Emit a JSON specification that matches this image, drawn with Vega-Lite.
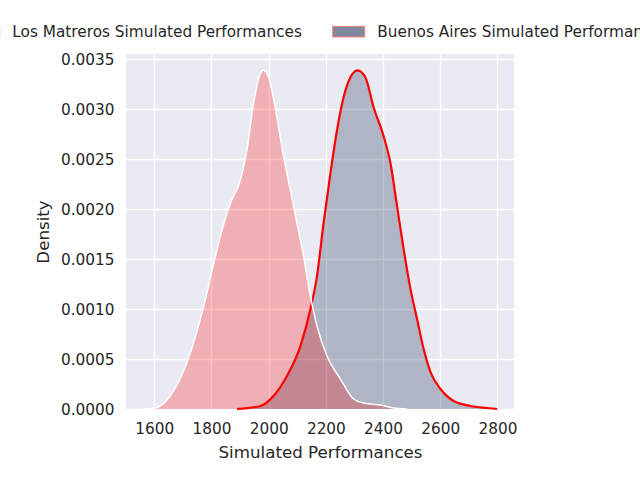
{
  "$schema": "https://vega.github.io/schema/vega-lite/v6.json",
  "width": 388,
  "height": 355,
  "autosize": {"type": "none"},
  "padding": {"left": 126, "top": 54, "right": 126, "bottom": 71},
  "background": "white",
  "data": {
    "values": [
      {"series": "Buenos Aires Simulated Performances", "x": 1889, "d": 0},
      {"series": "Buenos Aires Simulated Performances", "x": 1971, "d": 0.00003},
      {"series": "Buenos Aires Simulated Performances", "x": 2017, "d": 0.00013},
      {"series": "Buenos Aires Simulated Performances", "x": 2064, "d": 0.00033},
      {"series": "Buenos Aires Simulated Performances", "x": 2111, "d": 0.00063},
      {"series": "Buenos Aires Simulated Performances", "x": 2146, "d": 0.001},
      {"series": "Buenos Aires Simulated Performances", "x": 2169, "d": 0.00133},
      {"series": "Buenos Aires Simulated Performances", "x": 2192, "d": 0.00186},
      {"series": "Buenos Aires Simulated Performances", "x": 2216, "d": 0.00236},
      {"series": "Buenos Aires Simulated Performances", "x": 2239, "d": 0.00279},
      {"series": "Buenos Aires Simulated Performances", "x": 2262, "d": 0.00312},
      {"series": "Buenos Aires Simulated Performances", "x": 2286, "d": 0.00332},
      {"series": "Buenos Aires Simulated Performances", "x": 2311, "d": 0.00339},
      {"series": "Buenos Aires Simulated Performances", "x": 2338, "d": 0.00332},
      {"series": "Buenos Aires Simulated Performances", "x": 2367, "d": 0.00302},
      {"series": "Buenos Aires Simulated Performances", "x": 2402, "d": 0.00273},
      {"series": "Buenos Aires Simulated Performances", "x": 2426, "d": 0.00246},
      {"series": "Buenos Aires Simulated Performances", "x": 2449, "d": 0.00203},
      {"series": "Buenos Aires Simulated Performances", "x": 2472, "d": 0.0016},
      {"series": "Buenos Aires Simulated Performances", "x": 2496, "d": 0.0012},
      {"series": "Buenos Aires Simulated Performances", "x": 2519, "d": 0.0009},
      {"series": "Buenos Aires Simulated Performances", "x": 2542, "d": 0.0006},
      {"series": "Buenos Aires Simulated Performances", "x": 2566, "d": 0.00037},
      {"series": "Buenos Aires Simulated Performances", "x": 2601, "d": 0.0002},
      {"series": "Buenos Aires Simulated Performances", "x": 2647, "d": 0.00008},
      {"series": "Buenos Aires Simulated Performances", "x": 2706, "d": 0.00003},
      {"series": "Buenos Aires Simulated Performances", "x": 2764, "d": 0.00001},
      {"series": "Buenos Aires Simulated Performances", "x": 2799, "d": 0},
      {"series": "Los Matreros Simulated Performances", "x": 1562, "d": 0},
      {"series": "Los Matreros Simulated Performances", "x": 1603, "d": 0.00001},
      {"series": "Los Matreros Simulated Performances", "x": 1656, "d": 0.000133},
      {"series": "Los Matreros Simulated Performances", "x": 1714, "d": 0.000465},
      {"series": "Los Matreros Simulated Performances", "x": 1773, "d": 0.00103},
      {"series": "Los Matreros Simulated Performances", "x": 1808, "d": 0.00146},
      {"series": "Los Matreros Simulated Performances", "x": 1831, "d": 0.00173},
      {"series": "Los Matreros Simulated Performances", "x": 1866, "d": 0.00206},
      {"series": "Los Matreros Simulated Performances", "x": 1901, "d": 0.00229},
      {"series": "Los Matreros Simulated Performances", "x": 1924, "d": 0.00259},
      {"series": "Los Matreros Simulated Performances", "x": 1947, "d": 0.00306},
      {"series": "Los Matreros Simulated Performances", "x": 1971, "d": 0.00336},
      {"series": "Los Matreros Simulated Performances", "x": 1982, "d": 0.00339},
      {"series": "Los Matreros Simulated Performances", "x": 2000, "d": 0.00332},
      {"series": "Los Matreros Simulated Performances", "x": 2029, "d": 0.00292},
      {"series": "Los Matreros Simulated Performances", "x": 2052, "d": 0.00253},
      {"series": "Los Matreros Simulated Performances", "x": 2076, "d": 0.00219},
      {"series": "Los Matreros Simulated Performances", "x": 2099, "d": 0.00186},
      {"series": "Los Matreros Simulated Performances", "x": 2122, "d": 0.00153},
      {"series": "Los Matreros Simulated Performances", "x": 2146, "d": 0.00113},
      {"series": "Los Matreros Simulated Performances", "x": 2169, "d": 0.00083},
      {"series": "Los Matreros Simulated Performances", "x": 2204, "d": 0.00053},
      {"series": "Los Matreros Simulated Performances", "x": 2251, "d": 0.0003},
      {"series": "Los Matreros Simulated Performances", "x": 2297, "d": 0.0001},
      {"series": "Los Matreros Simulated Performances", "x": 2332, "d": 0.00006},
      {"series": "Los Matreros Simulated Performances", "x": 2391, "d": 0.00004},
      {"series": "Los Matreros Simulated Performances", "x": 2437, "d": 0.00001},
      {"series": "Los Matreros Simulated Performances", "x": 2484, "d": 0}
    ]
  },
  "encoding": {
    "x": {
      "field": "x",
      "type": "quantitative",
      "title": "Simulated Performances",
      "scale": {"domain": [1501, 2858], "nice": false, "zero": false},
      "axis": {"values": [1600, 1800, 2000, 2200, 2400, 2600, 2800], "format": "d", "titlePadding": 8}
    },
    "y": {
      "field": "d",
      "type": "quantitative",
      "title": "Density",
      "scale": {"domain": [0, 0.003553], "nice": false},
      "axis": {"values": [0, 0.0005, 0.001, 0.0015, 0.002, 0.0025, 0.003, 0.0035], "format": ".4f", "titlePadding": 8}
    }
  },
  "layer": [
    {
      "transform": [{"filter": "datum.series == 'Buenos Aires Simulated Performances'"}],
      "mark": {"type": "area", "interpolate": "monotone", "fillOpacity": 0.25},
      "encoding": {
        "fill": {
          "field": "series",
          "type": "nominal",
          "scale": {
            "domain": ["Los Matreros Simulated Performances", "Buenos Aires Simulated Performances"],
            "range": ["#ff0000", "#00163e"]
          },
          "legend": {
            "orient": "none",
            "legendX": -150,
            "legendY": -30,
            "direction": "horizontal",
            "title": null,
            "padding": 0,
            "symbolType": "M-3,-1H3V1H-3Z",
            "symbolSize": 114,
            "symbolOpacity": 0.5,
            "symbolStrokeColor": "#ff0000",
            "symbolStrokeWidth": 1,
            "labelOffset": 21,
            "columnPadding": 28,
            "labelFont": "DejaVu Sans",
            "labelFontSize": 15.3,
            "labelColor": "#262626",
            "labelLimit": 500
          }
        }
      }
    },
    {
      "transform": [{"filter": "datum.series == 'Buenos Aires Simulated Performances'"}],
      "mark": {"type": "line", "interpolate": "monotone", "color": "#ff0000", "strokeWidth": 2.2},
      "encoding": {}
    },
    {
      "transform": [{"filter": "datum.series == 'Los Matreros Simulated Performances'"}],
      "mark": {"type": "area", "interpolate": "monotone", "fillOpacity": 0.25},
      "encoding": {
        "fill": {"field": "series", "type": "nominal"}
      }
    },
    {
      "transform": [{"filter": "datum.series == 'Los Matreros Simulated Performances'"}],
      "mark": {"type": "line", "interpolate": "monotone", "color": "#ffffff", "strokeWidth": 1.5},
      "encoding": {}
    }
  ],
  "config": {
    "view": {"fill": "#eaeaf2", "stroke": null},
    "axis": {
      "domain": false,
      "ticks": false,
      "grid": true,
      "gridColor": "#ffffff",
      "gridWidth": 1.3,
      "gridOpacity": 1,
      "labelFont": "DejaVu Sans",
      "labelFontSize": 15.3,
      "labelColor": "#262626",
      "labelPadding": 12,
      "titleFont": "DejaVu Sans",
      "titleFontSize": 16.7,
      "titleFontWeight": "normal",
      "titleColor": "#262626"
    }
  }
}
